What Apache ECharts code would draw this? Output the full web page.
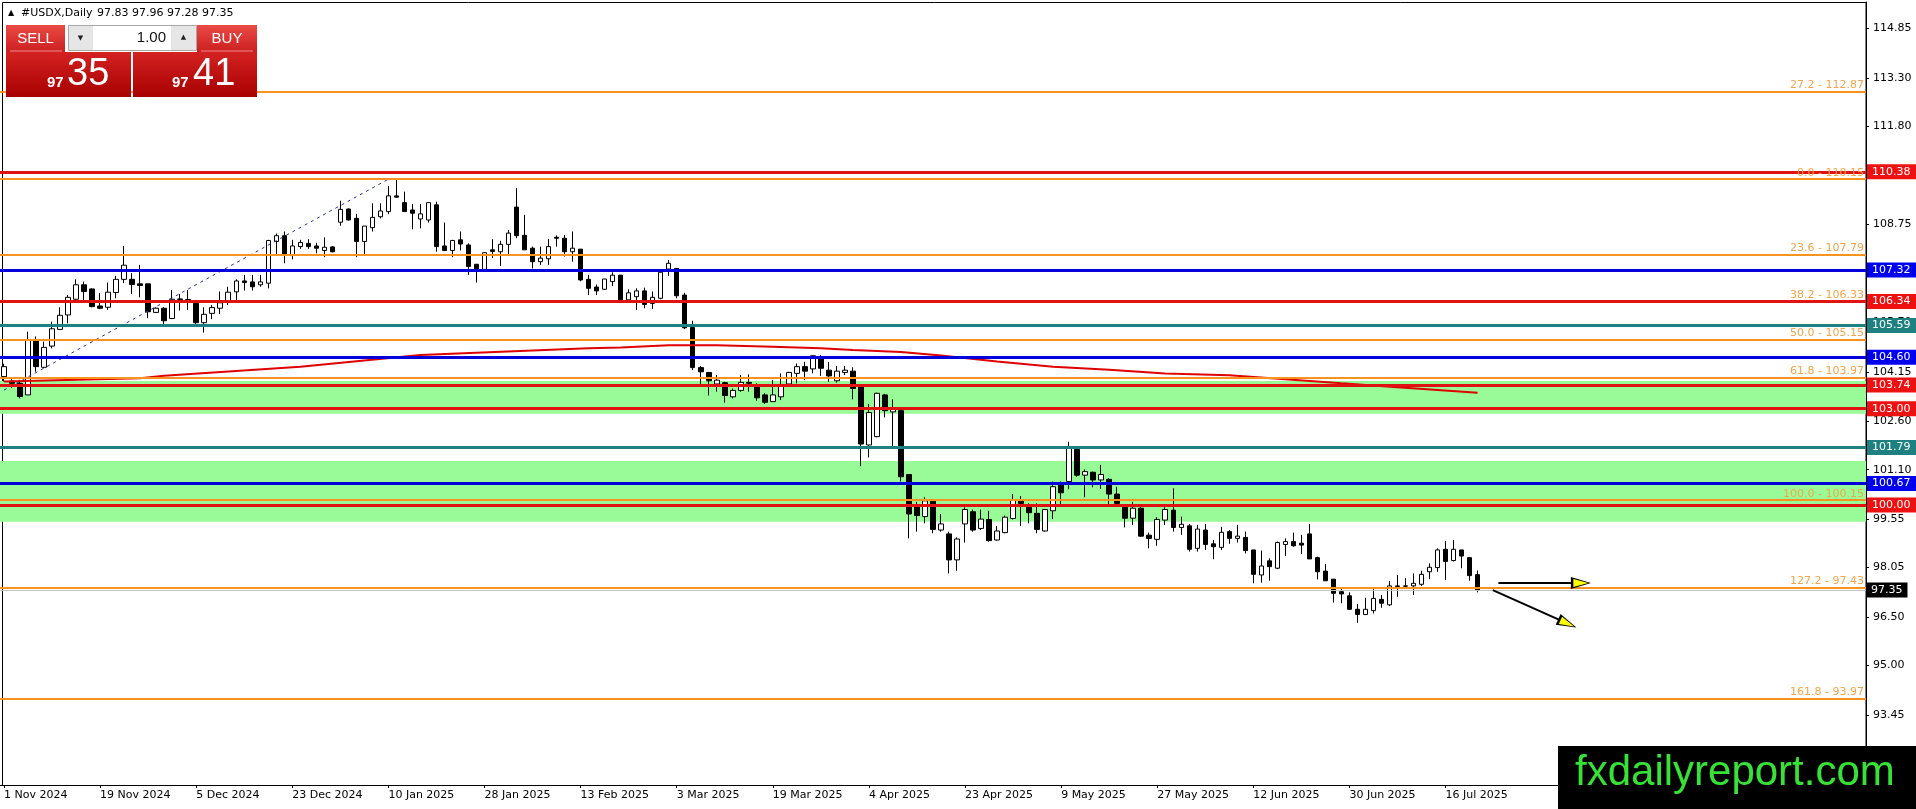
<!DOCTYPE html>
<html><head><meta charset="utf-8">
<script src="https://cdn.jsdelivr.net/npm/echarts@6/dist/echarts.min.js"></script>
<style>html,body{margin:0;padding:0;background:#fff;}#c{width:1916px;height:809px;}</style>
</head><body><div id="c"></div>
<script>
// ---- DATA ----
const opens = [104.00,103.86,103.79,103.43,105.14,104.29,104.95,105.47,105.92,106.41,106.86,106.73,106.20,106.16,106.62,107.03,107.03,106.89,106.89,106.00,106.13,105.81,106.40,106.40,106.28,105.68,105.97,106.13,106.37,106.64,106.98,106.95,106.86,106.91,108.21,108.39,107.78,108.05,108.15,108.07,107.93,108.04,108.81,109.22,108.93,108.21,108.64,108.98,109.14,109.63,109.42,109.19,108.91,108.88,109.35,108.07,107.93,108.26,108.10,107.50,107.34,107.95,107.89,108.12,109.28,108.40,108.00,107.58,107.67,108.34,108.31,107.89,107.97,107.03,106.79,106.72,106.96,107.16,106.39,106.49,106.67,106.28,106.44,107.35,107.37,106.54,105.53,104.28,104.13,103.77,103.81,103.37,103.57,103.82,103.69,103.43,103.22,103.37,103.77,104.10,104.31,104.24,104.57,104.20,103.87,104.13,104.17,103.69,101.87,102.13,103.43,102.90,102.94,100.95,99.97,99.64,100.12,99.22,99.10,98.29,99.41,99.79,99.27,99.55,98.91,99.14,99.58,100.12,99.93,99.74,99.19,99.82,100.62,100.73,101.73,100.93,101.02,100.78,100.80,100.34,99.93,99.59,99.90,99.06,98.93,99.53,99.84,99.30,99.35,98.65,99.22,98.79,98.68,99.17,98.96,98.99,98.60,97.82,98.26,98.03,98.77,98.86,98.81,99.10,98.36,97.94,97.69,97.30,97.17,96.75,96.59,96.71,97.06,96.89,97.46,97.47,97.48,97.53,97.92,98.05,98.62,98.27,98.60,98.36,97.83];
const highs = [104.40,103.92,103.90,105.40,105.25,105.09,105.71,106.16,106.54,107.03,106.96,106.75,106.60,106.93,107.14,108.07,107.22,107.48,106.89,106.16,106.16,106.70,106.57,106.70,106.30,106.16,106.23,106.65,106.80,107.03,107.17,107.17,107.17,108.26,108.46,108.52,108.26,108.26,108.28,108.17,108.34,108.07,109.48,109.24,109.07,108.69,109.40,109.40,109.94,110.13,109.76,109.38,109.38,109.42,109.45,108.80,108.26,108.52,108.15,107.50,107.86,108.28,108.23,108.57,109.87,109.04,108.05,108.05,108.29,108.40,108.41,108.52,107.97,107.17,106.87,107.04,107.25,107.16,106.72,106.75,106.77,106.65,107.25,107.63,107.37,106.61,105.74,104.33,104.13,104.05,103.84,103.63,104.05,104.07,103.79,103.48,103.89,104.10,104.15,104.41,104.46,104.67,104.67,104.46,104.33,104.33,104.29,103.69,103.15,103.50,103.46,103.29,102.94,100.95,100.10,100.24,100.12,99.72,99.17,98.99,99.93,99.86,99.86,99.82,99.35,99.67,100.34,100.28,100.05,100.05,99.86,100.73,100.73,101.97,101.73,101.11,101.04,101.25,100.83,100.57,99.97,100.10,99.93,99.14,99.62,99.93,100.52,99.64,99.41,99.38,99.41,98.91,99.32,99.22,99.38,99.17,98.60,98.58,98.34,98.86,98.96,99.14,99.07,99.41,98.39,98.16,97.69,97.44,97.28,96.92,97.11,97.38,97.20,97.63,97.82,97.72,97.87,97.95,98.18,98.65,98.88,98.91,98.60,98.36,97.96];
const lows = [103.85,103.64,103.32,103.43,104.15,104.26,104.88,105.45,105.66,106.39,106.39,106.16,106.10,106.08,106.44,106.91,106.57,106.47,105.82,105.99,105.64,105.79,106.06,106.08,105.64,105.37,105.79,105.95,106.23,106.39,106.68,106.68,106.80,106.75,107.82,107.53,107.65,107.98,107.98,107.84,107.72,107.87,108.70,108.86,107.72,107.82,108.52,108.93,109.06,109.59,109.14,108.59,108.62,108.80,107.89,107.93,107.72,107.93,107.17,106.93,107.32,107.69,107.45,107.82,108.31,107.95,107.37,107.48,107.48,108.05,107.74,107.58,106.97,106.54,106.54,106.70,106.82,106.39,106.33,106.08,106.13,106.11,106.41,107.14,106.44,105.48,104.20,103.77,103.41,103.53,103.19,103.32,103.53,103.53,103.25,103.15,103.22,103.27,103.69,103.79,103.89,104.10,104.02,103.84,103.81,104.05,103.29,101.21,101.48,102.11,102.73,101.84,100.73,98.96,99.17,99.43,99.12,99.17,97.87,97.95,98.83,99.17,99.22,98.86,98.89,99.12,99.55,99.35,99.43,99.12,99.17,99.56,100.03,100.49,100.88,100.24,100.55,100.50,100.03,100.03,99.30,99.38,99.01,98.65,98.73,99.38,99.17,99.07,98.55,98.55,98.60,98.31,98.60,98.79,98.83,98.49,97.56,97.58,97.64,98.00,98.41,98.70,98.47,98.32,97.68,97.64,96.96,96.94,96.73,96.33,96.57,96.62,96.80,96.85,97.14,97.44,97.20,97.48,97.69,97.92,97.66,98.24,98.03,97.64,97.28];
const closes = [104.31,103.79,103.38,105.14,104.31,104.91,105.49,105.91,106.47,106.86,106.65,106.18,106.13,106.63,107.03,107.47,106.87,106.84,106.02,106.13,105.74,106.41,106.42,106.38,105.68,105.94,106.15,106.30,106.63,106.98,106.93,106.80,106.95,108.24,108.39,107.81,108.07,108.18,108.05,108.00,108.03,107.89,109.21,108.88,108.21,108.69,108.96,109.16,109.63,109.59,109.14,109.09,109.07,109.42,108.05,107.93,108.24,108.13,107.43,107.32,107.86,107.90,108.12,108.47,108.39,107.95,107.58,107.69,108.05,108.31,107.89,108.00,107.01,106.75,106.67,107.04,107.16,106.39,106.61,106.67,106.25,106.47,107.25,107.53,106.52,105.52,104.28,104.15,103.87,103.89,103.41,103.57,103.82,103.79,103.34,103.20,103.43,103.72,104.13,104.31,104.17,104.65,104.26,104.02,104.17,104.20,103.63,101.90,102.88,103.48,102.94,103.01,100.88,99.72,99.67,100.13,99.24,99.41,98.29,98.94,99.86,99.22,99.56,98.89,99.19,99.62,100.14,100.05,99.76,99.24,99.86,100.57,100.38,101.77,100.93,101.04,100.78,100.95,100.34,100.05,99.59,99.90,99.03,98.96,99.55,99.86,99.30,99.40,98.62,99.25,98.77,98.70,99.15,98.96,99.03,98.58,97.84,98.10,98.08,98.83,98.86,98.73,98.75,98.32,97.92,97.64,97.25,97.23,96.75,96.59,96.75,97.09,96.94,97.48,97.48,97.48,97.56,97.84,98.06,98.60,98.24,98.62,98.41,97.80,97.35];
const dateLabels = ['1 Nov 2024','19 Nov 2024','5 Dec 2024','23 Dec 2024','10 Jan 2025','28 Jan 2025','13 Feb 2025','3 Mar 2025','19 Mar 2025','4 Apr 2025','23 Apr 2025','9 May 2025','27 May 2025','12 Jun 2025','30 Jun 2025','16 Jul 2025'];
const yTickValues = [114.85,113.30,111.80,110.25,108.75,107.20,105.70,104.15,102.60,101.10,99.55,98.05,96.50,95.00,93.45,91.90];
const fibLevels = [112.87,110.15,107.79,106.33,105.15,103.97,100.15,97.43,93.97];
const fibNames = ['27.2','0.0','23.6','38.2','50.0','61.8','100.0','127.2','161.8'];
const redLevels = [110.38,106.34,103.74,103.00,100.00];
const blueLevels = [107.32,104.60,100.67];
const tealLevels = [105.59,101.79];
const zoneTops = [103.86,101.37];
const zoneBottoms = [102.84,99.48];
const bidPrice = 97.35;
const maBars = [0,17,20,37,52,73,77,83,89,96,102,106,112,117,124,131,138,145,153,160,167,174,184];
const maValues = [103.85,103.95,104.03,104.31,104.67,104.88,104.91,104.98,104.98,104.93,104.88,104.83,104.77,104.66,104.47,104.31,104.21,104.10,104.04,103.92,103.79,103.67,103.50];
const trendBars = [0,48];
const trendValues = [103.58,110.15];
const arrowStartBars = [186.6,185.9];
const arrowStartValues = [97.57,97.35];
const arrowEndBars = [196.9,195.2];
const arrowEndValues = [97.57,96.31];
const SLOTS = 233;

// ---- BUILD ----
const FONT = 'DejaVu Sans';
const cats = Array.from({length: SLOTS}, (_, i) => String(i));
const candles = opens.map((o, i) => [o, closes[i], lows[i], highs[i]]);
const showTick = (idx) => idx % 12 === 0 && idx / 12 < dateLabels.length;

const boxLabel = (txt, bg) => ({show:true, position:'end', formatter:txt, color:'#fff', backgroundColor:bg,
  padding:[2,6,1,5], fontSize:11, fontFamily:FONT, distance:1, lineHeight:12});
const levelLines = [];
fibLevels.forEach((v, i) => levelLines.push({yAxis:v, lineStyle:{color:'#f7931e', width:2, type:'solid'},
  label:{show:true, position:'insideEndTop', formatter: fibNames[i] + ' - ' + v.toFixed(2), color:'#f2a54a',
  fontSize:11, fontFamily:FONT, distance:[2,1]}}));
tealLevels.forEach(v => levelLines.push({yAxis:v, lineStyle:{color:'#1e8080', width:3, type:'solid'}, label: boxLabel(v.toFixed(2), '#1e8080')}));
blueLevels.forEach(v => levelLines.push({yAxis:v, lineStyle:{color:'#0000dc', width:3, type:'solid'}, label: boxLabel(v.toFixed(2), '#0000ee')}));
redLevels.forEach(v => levelLines.push({yAxis:v, lineStyle:{color:'#e01212', width:3, type:'solid'}, label: boxLabel(v.toFixed(2), '#ee1111')}));
levelLines.push({yAxis:bidPrice, lineStyle:{color:'#c4c4c4', width:1, type:'solid'},
  label:{show:true, position:'end', formatter: bidPrice.toFixed(2), color:'#fff', backgroundColor:'#000', padding:[2,5,1,4], fontSize:11, fontFamily:FONT, distance:1, lineHeight:12}});

const zones = zoneTops.map((t, i) => [{yAxis:t}, {yAxis:zoneBottoms[i]}]);

const arrowItems = arrowStartBars.map((b, i) => [{coord:[b, arrowStartValues[i]], symbol:'none'}, {coord:[arrowEndBars[i], arrowEndValues[i]], symbol:'none'}]);
const arrowHeadsBlack = arrowStartBars.map((b, i) => [{coord:[b, arrowStartValues[i]], symbol:'none'},
  {coord:[arrowEndBars[i], arrowEndValues[i]], symbol:'triangle', symbolSize:[12,20]}]);
const arrowHeadsYellow = arrowStartBars.map((b, i) => [{coord:[b, arrowStartValues[i]], symbol:'none'},
  {coord:[arrowEndBars[i], arrowEndValues[i]], symbol:'triangle', symbolSize:[8,15]}]);

const redGrad = (c1, c2) => new echarts.graphic.LinearGradient(0,0,0,1,[{offset:0,color:c1},{offset:1,color:c2}]);

const option = {
  animation:false,
  backgroundColor:'#ffffff',
  grid:{left:-1, top:2, width:1867, bottom:24, containLabel:false},
  xAxis:[
    {type:'category', data:cats, boundaryGap:true,
     axisLine:{show:true, onZero:false, lineStyle:{color:'#000', width:1}},
     axisTick:{show:true, alignWithLabel:true, length:3, interval:(idx)=>showTick(idx), lineStyle:{color:'#000'}},
     axisLabel:{show:true, interval:(idx)=>showTick(idx), align:'left', margin:5, color:'#000', fontSize:11, fontFamily:FONT,
       formatter:(v, idx)=> { const k = Number(v); return (k % 12 === 0 && k/12 < dateLabels.length) ? dateLabels[k/12] : ''; }},
     splitLine:{show:false}},
    {type:'value', min:-0.5, max:SLOTS-0.5, show:false, axisLine:{onZero:false}}
  ],
  yAxis:[{type:'value', position:'right', min:91.277, max:115.67, scale:true,
    axisLine:{show:true, onZero:false, lineStyle:{color:'#000', width:1}},
    axisTick:{show:true, length:3, customValues:yTickValues, lineStyle:{color:'#000'}},
    axisLabel:{show:true, customValues:yTickValues, margin:7, color:'#000', fontSize:11, fontFamily:FONT, formatter:(v)=>Number(v).toFixed(2)},
    splitLine:{show:false}}],
  series:[
    {type:'line', xAxisIndex:1, data:[], z:1, silent:true,
     markArea:{silent:true, itemStyle:{color:'#98fb98', opacity:1}, data:zones}},
    {type:'candlestick', xAxisIndex:0, data:candles, z:2, barWidth:5,
     itemStyle:{color:'#ffffff', color0:'#000000', borderColor:'#000000', borderColor0:'#000000', borderWidth:1}},
    {type:'line', xAxisIndex:1, data:[], z:3, silent:true,
     markLine:{silent:true, symbol:['none','none'], data:levelLines}},
    {type:'line', xAxisIndex:1, z:4, data: maBars.map((b, i) => [b, maValues[i]]), showSymbol:false, symbol:'none',
     lineStyle:{color:'#e00000', width:2}},
    {type:'line', xAxisIndex:1, z:4, data: trendBars.map((b, i) => [b, trendValues[i]]), showSymbol:false, symbol:'none',
     lineStyle:{color:'#2a2aa8', width:1, type:[3,4]}},
    {type:'line', xAxisIndex:1, data:[], z:5, silent:true,
     markLine:{silent:true, symbol:['none','none'], lineStyle:{color:'#000', width:2, type:'solid'}, label:{show:false}, data:arrowItems}},
    {type:'line', xAxisIndex:1, data:[], z:6, silent:true,
     markLine:{silent:true, lineStyle:{color:'#000', width:0, type:'solid'}, label:{show:false}, data:arrowHeadsBlack}},
    {type:'line', xAxisIndex:1, data:[], z:7, silent:true,
     markLine:{silent:true, lineStyle:{color:'#ffff00', width:0, type:'solid'}, label:{show:false}, data:arrowHeadsYellow}}
  ],
  graphic:[
    {type:'rect', z:-1, silent:true, shape:{x:2.5, y:2.5, width:1863.5, height:783}, style:{fill:'none', stroke:'#000', lineWidth:1}},
    {type:'text', z:100, x:8, y:13, style:{text:'\u25B2', font:'8px "DejaVu Sans"', fill:'#000', verticalAlign:'middle'}},
    {type:'text', z:100, x:21, y:13, style:{text:'#USDX,Daily', font:'11px "DejaVu Sans"', fill:'#000', verticalAlign:'middle'}},
    {type:'text', z:100, x:97, y:13, style:{text:'97.83 97.96 97.28 97.35', font:'11px "DejaVu Sans"', fill:'#000', verticalAlign:'middle'}},
    {type:'rect', z:100, shape:{x:6, y:25, width:59, height:27}, style:{fill:redGrad('#ea4a46','#cc2020')}},
    {type:'line', z:101, shape:{x1:10, y1:51, x2:62, y2:51}, style:{stroke:'#f08a8a', lineWidth:1}},
    {type:'text', z:101, x:35.5, y:39, style:{text:'SELL', font:'15px "Liberation Sans"', fill:'#fff', align:'center', verticalAlign:'middle'}},
    {type:'rect', z:100, shape:{x:68.5, y:25.5, width:128, height:25}, style:{fill:'#e6e6e6', stroke:'#a8a8a8', lineWidth:1}},
    {type:'rect', z:101, shape:{x:93, y:26, width:78, height:24}, style:{fill:'#ffffff'}},
    {type:'text', z:101, x:80.5, y:38, style:{text:'\u25BC', font:'7px "DejaVu Sans"', fill:'#222', align:'center', verticalAlign:'middle'}},
    {type:'text', z:101, x:183.5, y:37, style:{text:'\u25B2', font:'7px "DejaVu Sans"', fill:'#222', align:'center', verticalAlign:'middle'}},
    {type:'text', z:101, x:166, y:38, style:{text:'1.00', font:'15px "Liberation Sans"', fill:'#111', align:'right', verticalAlign:'middle'}},
    {type:'rect', z:100, shape:{x:197, y:25, width:60, height:27}, style:{fill:redGrad('#ea4a46','#cc2020')}},
    {type:'line', z:101, shape:{x1:201, y1:51, x2:253, y2:51}, style:{stroke:'#f08a8a', lineWidth:1}},
    {type:'text', z:101, x:227, y:39, style:{text:'BUY', font:'15px "Liberation Sans"', fill:'#fff', align:'center', verticalAlign:'middle'}},
    {type:'rect', z:100, shape:{x:6, y:52, width:125, height:45}, style:{fill:redGrad('#d42222','#a80000')}},
    {type:'rect', z:100, shape:{x:133, y:52, width:124, height:45}, style:{fill:redGrad('#d42222','#a80000')}},
    {type:'text', z:101, x:47, y:83, style:{text:'97', font:'bold 15px "Liberation Sans"', fill:'#fff', verticalAlign:'middle'}},
    {type:'text', z:101, x:67, y:75, style:{text:'35', font:'38px "Liberation Sans"', fill:'#fff', verticalAlign:'middle'}},
    {type:'text', z:101, x:172, y:83, style:{text:'97', font:'bold 15px "Liberation Sans"', fill:'#fff', verticalAlign:'middle'}},
    {type:'text', z:101, x:193, y:75, style:{text:'41', font:'38px "Liberation Sans"', fill:'#fff', verticalAlign:'middle'}},
    {type:'rect', z:200, shape:{x:1558, y:746, width:358, height:63}, style:{fill:'#000'}},
    {type:'text', z:201, x:1575, y:773, style:{text:'fxdailyreport.com', font:'42px "Liberation Sans"', fill:'#36e236', verticalAlign:'middle'}}
  ]
};
const chart = echarts.init(document.getElementById('c'), null, {renderer:'canvas', width:1916, height:809});
chart.setOption(option);
</script>
</body></html>
